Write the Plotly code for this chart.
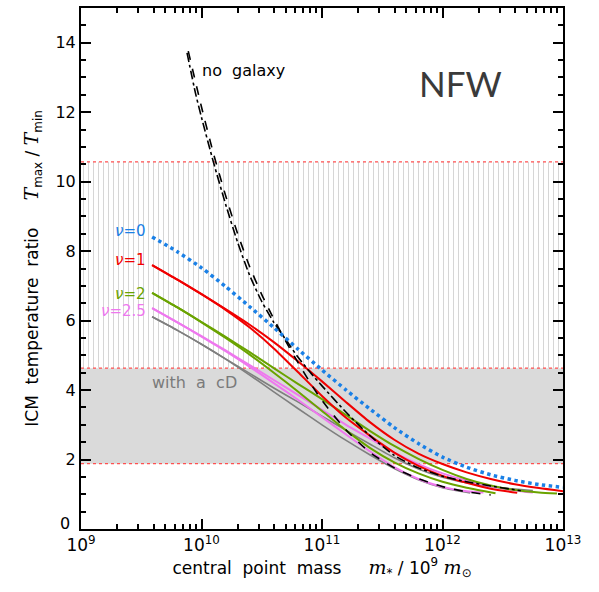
import plotly.graph_objects as go

# ---- data: log10(central point mass / 1e9 Msun) and temperature ratio ----
nu0_logm = [9.59, 9.8, 10.0, 10.2, 10.4, 10.6, 10.8, 11.0, 11.2, 11.4, 11.6, 11.8, 12.0, 12.2, 12.4, 12.6, 12.8, 13.0]
nu0_T    = [8.41, 7.98, 7.52, 6.98, 6.40, 5.80, 5.18, 4.58, 4.00, 3.45, 2.92, 2.46, 2.07, 1.78, 1.56, 1.40, 1.28, 1.20]

nu1a_logm = [9.59, 9.8, 10.0, 10.2, 10.4, 10.6, 10.8, 11.0, 11.2, 11.4, 11.6, 11.8, 12.0, 12.2, 12.4, 12.6, 12.8, 13.0]
nu1a_T    = [7.60, 7.18, 6.76, 6.33, 5.88, 5.38, 4.83, 4.25, 3.65, 3.07, 2.57, 2.17, 1.87, 1.63, 1.44, 1.29, 1.18, 1.09]
nu1b_logm = [9.59, 9.8, 10.0, 10.2, 10.4, 10.6, 10.8, 11.0, 11.2, 11.4, 11.6, 11.8, 12.0, 12.2, 12.4, 12.62]
nu1b_T    = [7.60, 7.18, 6.76, 6.31, 5.80, 5.20, 4.52, 3.83, 3.20, 2.68, 2.20, 1.82, 1.53, 1.33, 1.16, 1.04]

nu2a_logm = [9.59, 9.8, 10.0, 10.2, 10.4, 10.6, 10.8, 11.0, 11.2, 11.4, 11.6, 11.8, 12.0, 12.2, 12.4, 12.6, 12.8, 12.95]
nu2a_T    = [6.80, 6.38, 5.96, 5.53, 5.09, 4.63, 4.18, 3.74, 3.28, 2.82, 2.39, 2.02, 1.70, 1.44, 1.25, 1.12, 1.05, 1.02]
nu2b_logm = [9.59, 9.8, 10.0, 10.2, 10.4, 10.6, 10.8, 11.0, 11.2, 11.4, 11.6, 11.8, 12.0, 12.2, 12.44]
nu2b_T    = [6.80, 6.38, 5.95, 5.50, 5.02, 4.50, 3.96, 3.40, 2.84, 2.33, 1.92, 1.60, 1.36, 1.19, 1.03]

nu25a_logm = [9.59, 9.8, 10.0, 10.2, 10.4, 10.6, 10.8, 11.0, 11.2, 11.4, 11.6, 11.8, 12.0, 12.2, 12.4, 12.6, 12.75]
nu25a_T    = [6.36, 5.95, 5.55, 5.14, 4.72, 4.29, 3.86, 3.43, 3.00, 2.60, 2.20, 1.87, 1.60, 1.39, 1.23, 1.11, 1.05]
nu25b_logm = [9.59, 9.8, 10.0, 10.2, 10.4, 10.6, 10.8, 11.0, 11.2, 11.4, 11.6, 11.8, 12.0, 12.2, 12.34]
nu25b_T    = [6.36, 5.95, 5.54, 5.12, 4.67, 4.20, 3.72, 3.22, 2.72, 2.23, 1.78, 1.44, 1.21, 1.09, 1.05]

cDa_logm = [9.59, 9.8, 10.0, 10.2, 10.4, 10.6, 10.8, 11.0, 11.2, 11.4, 11.6, 11.8, 12.0, 12.2, 12.4, 12.6, 12.75]
cDa_T    = [6.11, 5.72, 5.32, 4.90, 4.48, 4.06, 3.66, 3.25, 2.84, 2.44, 2.05, 1.73, 1.49, 1.33, 1.22, 1.15, 1.11]
cDb_logm = [9.59, 9.8, 10.0, 10.2, 10.4, 10.6, 10.8, 11.0, 11.2, 11.4, 11.6, 11.8, 12.0, 12.23]
cDb_T    = [6.11, 5.72, 5.32, 4.89, 4.43, 3.95, 3.47, 3.00, 2.55, 2.13, 1.74, 1.42, 1.19, 1.04]

nogal_a_logm = [9.88, 9.95, 10.0, 10.1, 10.2, 10.3, 10.4, 10.5, 10.6, 10.7, 10.8, 10.9, 11.0, 11.2, 11.4, 11.6, 11.8, 12.0, 12.2, 12.4, 12.65]
nogal_a_T    = [13.71, 12.55, 11.85, 10.55, 9.35, 8.25, 7.30, 6.55, 5.95, 5.45, 4.95, 4.52, 4.12, 3.36, 2.68, 2.12, 1.76, 1.52, 1.36, 1.24, 1.10]
nogal_b_logm = [9.89, 10.0, 10.1, 10.2, 10.3, 10.4, 10.5, 10.6, 10.7, 10.8, 10.9, 11.0, 11.2, 11.4, 11.6, 11.8, 12.0, 12.2, 12.4]
nogal_b_T    = [13.76, 12.15, 10.80, 9.60, 8.50, 7.55, 6.75, 6.05, 5.40, 4.80, 4.22, 3.70, 2.85, 2.20, 1.76, 1.45, 1.22, 1.07, 0.98]

# observed ranges
band_low, band_mid, band_high = 1.88, 4.63, 10.57
x_range_log = [9, 13]
y_range = [0, 15]
x_ticks_log = [9, 10, 11, 12, 13]
x_tick_text = ["10<sup>%d</sup>" % e for e in x_ticks_log]
y_ticks = [0, 2, 4, 6, 8, 10, 12, 14]
y_tick_text = ["" if v == 0 else str(v) for v in y_ticks]

BLUE = "#1a80e6"
RED = "#f00000"
GREEN = "#6aa300"
PINK = "#ee78ee"
GRAY = "#7f7f7f"

def m(logs):
    return [10 ** v for v in logs]

xmin, xmax = 10 ** x_range_log[0], 10 ** x_range_log[1]

fig = go.Figure()

# hatched band
fig.add_trace(go.Scatter(
    x=[xmin, xmax, xmax, xmin, xmin], y=[band_mid, band_mid, band_high, band_high, band_mid],
    mode="lines", line=dict(width=0), fill="toself", fillcolor="white",
    fillpattern=dict(shape="|", size=5, solidity=0.2, fgcolor="#d6d6d6", bgcolor="white", fillmode="replace"),
    hoverinfo="skip", showlegend=False))
# grey filled band
fig.add_trace(go.Scatter(
    x=[xmin, xmax, xmax, xmin, xmin], y=[band_low, band_low, band_mid, band_mid, band_low],
    mode="lines", line=dict(width=0), fill="toself", fillcolor="#dadada",
    hoverinfo="skip", showlegend=False))
for yv in [band_low, band_mid, band_high]:
    fig.add_trace(go.Scatter(x=[xmin, xmax], y=[yv, yv], mode="lines",
                             line=dict(color="#ff5050", width=1.2, dash="dot"),
                             hoverinfo="skip", showlegend=False))

def curve(lx, ly, color, width=2, dash="solid"):
    fig.add_trace(go.Scatter(x=m(lx), y=ly, mode="lines",
                             line=dict(color=color, width=width, dash=dash, shape="spline", smoothing=0.6),
                             showlegend=False))

curve(cDb_logm, cDb_T, GRAY, 1.6)
curve(cDa_logm, cDa_T, GRAY, 1.6)
curve(nu25b_logm, nu25b_T, PINK, 2)
curve(nu25a_logm, nu25a_T, PINK, 2)
curve(nu2b_logm, nu2b_T, GREEN, 2)
curve(nu2a_logm, nu2a_T, GREEN, 2)
curve(nu1b_logm, nu1b_T, RED, 2)
curve(nu1a_logm, nu1a_T, RED, 2)
curve(nogal_b_logm, nogal_b_T, "black", 1.6, "dash")
curve(nogal_a_logm, nogal_a_T, "black", 1.6, "dashdot")
curve(nu0_logm, nu0_T, BLUE, 3.5, "dot")

FONT = "DejaVu Sans"
SERIF = '<span style="font-family:DejaVu Serif;font-size:19px">'
NU = '<i>ν</i>'
ann = [
    (NU + "=0", 9.56, 8.59, BLUE),
    (NU + "=1", 9.56, 7.74, RED),
    (NU + "=2", 9.56, 6.78, GREEN),
    (NU + "=2.5", 9.56, 6.27, PINK),
]
for t, lx, ly, c in ann:
    fig.add_annotation(x=lx, y=ly, text=t, showarrow=False, xanchor="right", yanchor="middle",
                       font=dict(family=FONT, size=15, color=c))
fig.add_annotation(x=9.99, y=13.19, text="no  galaxy", showarrow=False, xanchor="left", yanchor="middle",
                   font=dict(family=FONT, size=16, color="black"))
fig.add_annotation(x=9.575, y=4.21, text="with  a  cD", showarrow=False, xanchor="left", yanchor="middle",
                   font=dict(family=FONT, size=16, color="#7a7a7a"))
fig.add_annotation(x=12.15, y=12.84, text="NFW", showarrow=False, xanchor="center", yanchor="middle",
                   font=dict(family="Lato", size=35, color="#3a3a3a"))
# raised "0" label of the y axis (kept clear of the x tick labels)
fig.add_annotation(xref="paper", x=0, y=y_ticks[0], text=str(y_ticks[0]), showarrow=False,
                   xanchor="right", yanchor="middle", xshift=-9, yshift=6,
                   font=dict(family=FONT, size=16, color="black"))

fig.update_layout(
    width=599, height=592,
    margin=dict(l=81, r=36, t=6, b=63),
    paper_bgcolor="white", plot_bgcolor="white",
    font=dict(family=FONT, size=16, color="black"),
)
fig.update_xaxes(type="log", range=x_range_log, showgrid=False, zeroline=False,
                 showline=True, linecolor="black", linewidth=2, mirror="ticks",
                 ticks="inside", ticklen=10, tickwidth=2, tickcolor="black",
                 tickvals=m(x_ticks_log), ticktext=x_tick_text,
                 tickfont=dict(family=FONT, size=17),
                 minor=dict(ticks="inside", ticklen=5, tickwidth=2, tickcolor="black", dtick="D1", showgrid=False),
                 title=dict(text="central  point  mass     " + SERIF + "<i>m</i></span><sub>*</sub> / 10<sup>9</sup> "
                                 + SERIF + "<i>m</i></span><sub>⊙</sub>",
                            font=dict(family=FONT, size=17), standoff=4))
fig.update_yaxes(range=y_range, showgrid=False, zeroline=False,
                 showline=True, linecolor="black", linewidth=2, mirror="ticks",
                 ticks="inside", ticklen=10, tickwidth=2, tickcolor="black",
                 tickvals=y_ticks, ticktext=y_tick_text, tickfont=dict(family=FONT, size=16),
                 minor=dict(ticks="inside", ticklen=5, tickwidth=2, tickcolor="black", dtick=0.5, showgrid=False),
                 title=dict(text="ICM  temperature  ratio     " + SERIF + "<i>T</i></span><sub>max</sub> / "
                                 + SERIF + "<i>T</i></span><sub>min</sub>",
                            font=dict(family=FONT, size=17), standoff=12))

fig.write_html("out.html")
